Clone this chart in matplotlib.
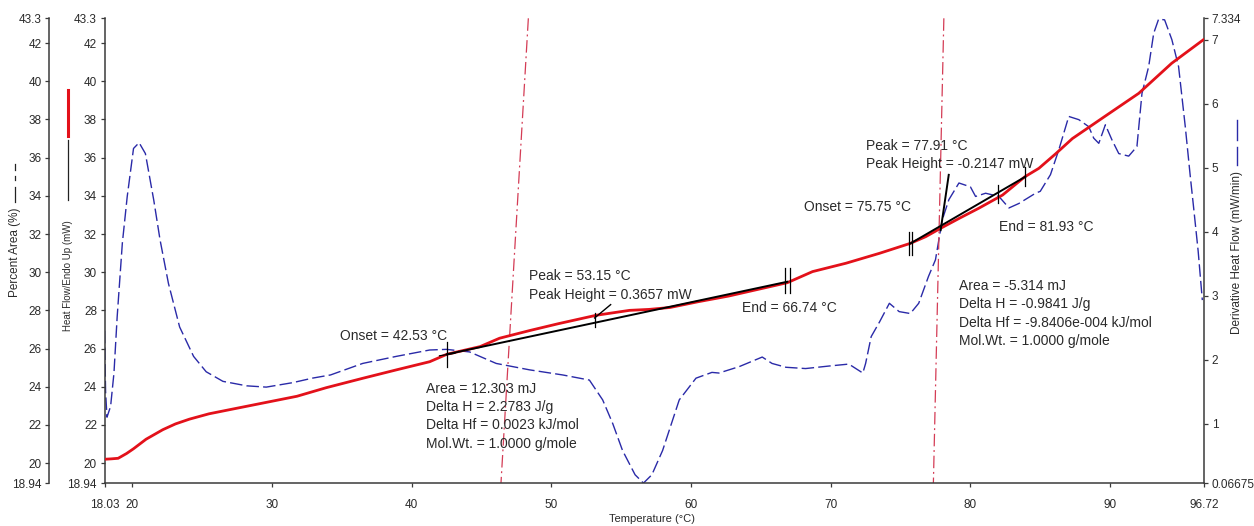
import matplotlib
matplotlib.use('Agg')
import matplotlib.pyplot as plt
from matplotlib.lines import Line2D

plt.rcParams['font.family'] = ['Liberation Sans', 'DejaVu Sans']

# ---------------- data ----------------
temp_hf = [18.03, 18.5, 19.0, 19.6, 20.1, 21.0, 22.2, 23.1, 24.1, 25.5, 27.0, 29.4, 31.8, 33.9,
           36.5, 38.9, 41.3, 42.53, 44.9, 46.3, 48.5, 50.5, 53.2, 55.6, 57.0, 58.5,
           60.5, 62.7, 64.8, 66.9, 68.7, 71.1, 73.5, 75.7, 76.8, 77.87, 79.2, 80.6,
           82.3, 83.9, 84.9, 86.1, 87.3, 89.6, 92.05, 94.4, 96.72]
heat_flow = [20.2, 20.22, 20.25, 20.5, 20.75, 21.25, 21.75, 22.05, 22.3, 22.58, 22.8, 23.15, 23.5,
             23.95, 24.44, 24.88, 25.31, 25.7, 26.1, 26.54, 26.95, 27.3, 27.74, 28.0, 28.05,
             28.15, 28.45, 28.75, 29.1, 29.45, 30.03, 30.47, 30.99, 31.51, 31.86, 32.3, 32.82,
             33.35, 34.04, 35.0, 35.44, 36.2, 37.0, 38.15, 39.37, 40.94, 42.2]

temp_deriv = [18.03, 18.1, 18.2, 18.46, 18.7, 18.93, 19.3, 19.65, 20.1, 20.5, 20.95, 21.55,
              22.0, 22.6, 23.4, 24.4, 25.3, 26.5, 28.2, 29.6, 31.5, 32.9, 34.2, 36.5,
              38.9, 41.3, 42.5, 44.15, 46.06, 48.44, 50.82, 52.73, 53.68, 54.4, 55.1, 56.0,
              56.6, 57.2, 57.97, 59.16, 60.36, 61.5, 62.0, 63.45, 65.1, 65.8, 66.8, 68.2,
              69.9, 71.3, 72.3, 72.5, 72.9, 73.5, 74.2, 74.9, 75.7, 76.3, 77.0, 77.5,
              77.98, 78.46, 79.18, 80.0, 80.37, 81.09, 82.04, 82.76, 83.47, 84.66, 85.0,
              85.73, 86.33, 87.04, 87.76, 88.47, 88.83, 89.19, 89.66, 90.14, 90.62, 91.33,
              91.92, 92.28, 92.76, 93.12, 93.47, 93.9, 94.42, 94.9, 95.38, 95.74, 95.97,
              96.3, 96.6]
deriv = [2.45, 1.5, 1.1, 1.27, 1.79, 2.67, 3.82, 4.55, 5.30, 5.39, 5.22, 4.49,
         3.87, 3.19, 2.51, 2.05, 1.81, 1.66, 1.59, 1.57, 1.64, 1.71, 1.76, 1.94,
         2.05, 2.15, 2.16, 2.12, 1.94, 1.84, 1.76, 1.68, 1.37, 1.00, 0.58, 0.2,
         0.07, 0.2, 0.58, 1.37, 1.71, 1.80, 1.79, 1.89, 2.04, 1.94, 1.88, 1.86,
         1.90, 1.93, 1.79, 1.94, 2.36, 2.59, 2.88, 2.75, 2.72, 2.88, 3.30, 3.56,
         4.18, 4.50, 4.76, 4.70, 4.55, 4.60, 4.55, 4.37, 4.44, 4.60, 4.63,
         4.89, 5.28, 5.80, 5.75, 5.64, 5.46, 5.38, 5.67, 5.43, 5.22, 5.18,
         5.33, 6.16, 6.58, 7.10, 7.32, 7.31, 7.0, 6.58, 5.64, 4.86, 4.39,
         3.7, 2.93]

# baseline / event markers (temperatures and heat-flow levels)
base1_temp = [42.53, 66.9]
base1_hf = [25.7, 29.5]
base2_temp = [75.72, 83.93]
base2_hf = [31.51, 35.0]
peak2_line_temp = [77.87, 78.45]
peak2_line_hf = [32.2, 35.1]
peak1_line_temp = [53.1, 54.25]
peak1_line_hf = [27.6, 28.3]

# rotated reference lines (top temp, bottom temp)
ref_line1 = [48.36, 46.4]
ref_line2 = [78.1, 77.35]

x_ticks = [18.03, 20, 30, 40, 50, 60, 70, 80, 90, 96.72]
x_tick_labels = ['18.03', '20', '30', '40', '50', '60', '70', '80', '90', '96.72']
hf_ticks = [18.94, 20, 22, 24, 26, 28, 30, 32, 34, 36, 38, 40, 42, 43.3]
hf_tick_labels = ['18.94', '20', '22', '24', '26', '28', '30', '32', '34', '36', '38',
                  '40', '42', '43.3']
d_ticks = [0.06675, 1, 2, 3, 4, 5, 6, 7, 7.334]
d_tick_labels = ['0.06675', '1', '2', '3', '4', '5', '6', '7', '7.334']

onset1_text = 'Onset = 42.53 °C'
peak1_text = ['Peak = 53.15 °C', 'Peak Height = 0.3657 mW']
end1_text = 'End = 66.74 °C'
area1_text = ['Area = 12.303 mJ', 'Delta H = 2.2783 J/g', 'Delta Hf = 0.0023 kJ/mol',
              'Mol.Wt. = 1.0000 g/mole']
peak2_text = ['Peak = 77.91 °C', 'Peak Height = -0.2147 mW']
onset2_text = 'Onset = 75.75 °C'
end2_text = 'End = 81.93 °C'
area2_text = ['Area = -5.314 mJ', 'Delta H = -0.9841 J/g', 'Delta Hf = -9.8406e-004 kJ/mol',
              'Mol.Wt. = 1.0000 g/mole']

# ---------------- figure ----------------
W, H = 1254, 526
fig = plt.figure(figsize=(W / 100, H / 100), dpi=100)
ax_l, ax_r, ax_t, ax_b = 104.6, 1204.0, 18.3, 483.3
ax = fig.add_axes([ax_l / W, 1 - ax_b / H, (ax_r - ax_l) / W, (ax_b - ax_t) / H])
ax2 = ax.twinx()
ax3 = ax.twinx()

spine_c = '#3a3a3a'
text_c = '#2a2a2a'

ax.set_xlim(18.03, 96.72)
ax.set_ylim(18.94, 43.3)
ax2.set_ylim(0.06675, 7.334)
ax3.set_ylim(18.94, 43.3)

# derivative (blue dashed)
ax2.plot(temp_deriv, deriv, color='#2a2aa8', lw=1.0, dashes=(9, 3), zorder=2)

# heat flow (red)
ax.plot(temp_hf, heat_flow, color='#e3111a', lw=2.0, zorder=3, solid_capstyle='round',
        solid_joinstyle='round')

# reference lines (red dash-dot)
for top_t, bot_t in (ref_line1, ref_line2):
    ax.plot([top_t, bot_t], [43.3, 18.94], color='#d43c55', lw=0.9,
            dashes=(10, 3, 1.5, 3), zorder=2)

# black baselines and markers
bk = dict(color='black', lw=1.4, zorder=4)
ax.plot(base1_temp, base1_hf, **bk)
ax.plot(base2_temp, base2_hf, **bk)
ax.plot(peak2_line_temp, peak2_line_hf, **bk)
ax.plot(peak1_line_temp, peak1_line_hf, color='black', lw=1.0, zorder=4)
mk = dict(color='black', lw=0.9, zorder=4)
ax.plot([42.53, 42.53], [25.05, 26.36], **mk)
ax.plot([42.0, 43.1], [25.62, 25.75], **mk)
ax.plot([53.15, 53.15], [27.13, 27.86], **mk)
for t in (66.74, 67.12):
    ax.plot([t, t], [28.93, 30.2], **mk)
for t in (75.6, 75.85):
    ax.plot([t, t], [30.9, 32.1], **mk)
ax.plot([81.95, 81.95], [33.6, 34.56], **mk)
ax.plot([83.93, 83.93], [34.5, 35.5], **mk)

# annotations
fs = 10
tk = dict(fontsize=fs, color=text_c, ha='left', va='center', zorder=5)
ax.text(34.9, 26.66, onset1_text, **tk)
ax.text(48.44, 29.78, peak1_text[0], **tk)
ax.text(48.44, 28.8, peak1_text[1], **tk)
ax.text(63.65, 28.12, end1_text, **tk)
for i, s in enumerate(area1_text):
    ax.text(41.0, 23.87 - i * 0.95, s, **tk)
ax.text(72.5, 36.6, peak2_text[0], **tk)
ax.text(72.5, 35.65, peak2_text[1], **tk)
ax.text(68.1, 33.43, onset2_text, **tk)
ax.text(82.04, 32.38, end2_text, **tk)
for i, s in enumerate(area2_text):
    ax.text(79.18, 29.29 - i * 0.97, s, **tk)

# ---------------- axes styling ----------------
ax.set_zorder(ax2.get_zorder() + 1)
ax.patch.set_visible(False)
ax3.patch.set_visible(False)

for a in (ax, ax2, ax3):
    for s in a.spines.values():
        s.set_color(spine_c)
        s.set_linewidth(1.1)
ax.spines['top'].set_visible(False)
ax.spines['right'].set_visible(False)
ax2.spines['top'].set_visible(False)
ax2.spines['left'].set_visible(False)
ax2.spines['bottom'].set_visible(False)
ax3.spines['top'].set_visible(False)
ax3.spines['right'].set_visible(False)
ax3.spines['bottom'].set_visible(False)
ax3.spines['left'].set_visible(True)
ax3.spines['left'].set_position(('axes', -(ax_l - 49.3) / (ax_r - ax_l)))
ax3.yaxis.set_ticks_position('left')
ax3.yaxis.set_label_position('left')

tick_kw = dict(labelsize=8.5, length=3, width=0.9, color=spine_c, labelcolor=text_c,
               direction='out')
ax.set_xticks(x_ticks)
ax.set_xticklabels(x_tick_labels)
ax.tick_params(axis='x', pad=8, **tick_kw)
ax.set_yticks(hf_ticks)
ax.set_yticklabels(hf_tick_labels)
ax.tick_params(axis='y', pad=2.5, **tick_kw)
ax2.set_yticks(d_ticks)
ax2.set_yticklabels(d_tick_labels)
ax2.tick_params(axis='y', pad=2.5, **tick_kw)
ax3.set_yticks(hf_ticks)
ax3.set_yticklabels(hf_tick_labels)
ax3.tick_params(axis='y', pad=2.5, **tick_kw)


def fx(px):
    return px / W


def fy(py):
    return 1 - py / H


# axis titles with legend samples
fig.text(fx(15), fy(252), 'Percent Area (%)', rotation=90, fontsize=8.5,
         color=text_c, ha='center', va='center')
for y0, y1 in ((187, 202), (176, 180), (164, 170)):
    fig.add_artist(Line2D([fx(15), fx(15)], [fy(y0), fy(y1)], color='#222222', lw=0.9))

fig.text(fx(68), fy(276), 'Heat Flow/Endo Up (mW)', rotation=90, fontsize=7,
         color=text_c, ha='center', va='center')
fig.add_artist(Line2D([fx(68), fx(68)], [fy(140), fy(200)], color='#222222', lw=0.9))
fig.add_artist(Line2D([fx(68), fx(68)], [fy(90), fy(136)], color='#e3111a', lw=2.2))

fig.text(fx(1237), fy(252), 'Derivative Heat Flow (mW/min)', rotation=90, fontsize=8.5,
         color=text_c, ha='center', va='center')
for y0, y1 in ((120, 140), (147, 165)):
    fig.add_artist(Line2D([fx(1237), fx(1237)], [fy(y0), fy(y1)], color='#2a2aa8', lw=1.0))

fig.text(fx(652), fy(519), 'Temperature (°C)', fontsize=8, color=text_c,
         ha='center', va='center')

fig.savefig('out.png', dpi=100)
